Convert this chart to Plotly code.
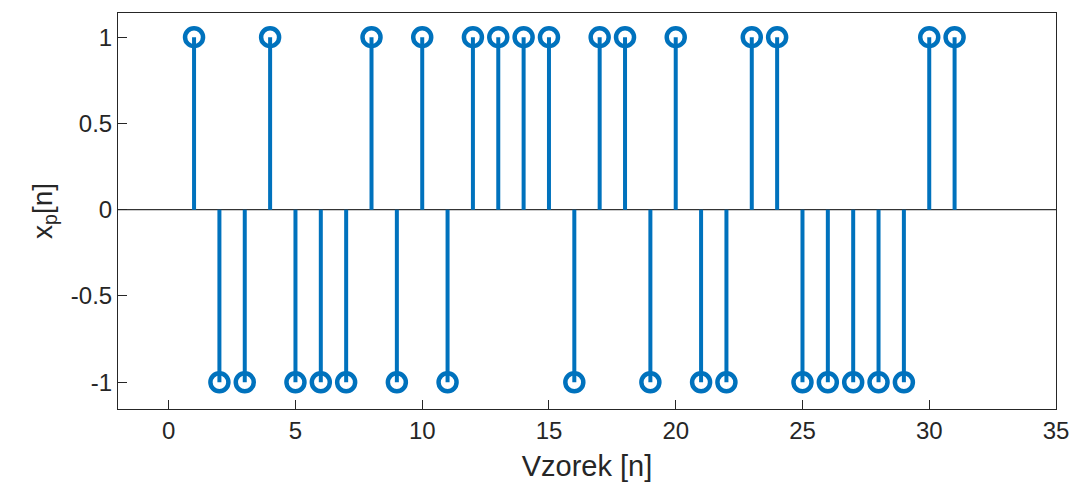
import plotly.graph_objects as go

n = list(range(1, 32))
xp = [1, -1, -1, 1, -1, -1, -1, 1, -1, 1, -1, 1, 1, 1, 1, -1, 1, 1, -1, 1,
      -1, -1, 1, 1, -1, -1, -1, -1, -1, 1, 1]
x_ticks = [0, 5, 10, 15, 20, 25, 30, 35]
y_ticks = [-1, -0.5, 0, 0.5, 1]
y_tick_text = ["-1", "-0.5", "0", "0.5", "1"]

color = "#0072BD"

sx, sy = [], []
for xi, yi in zip(n, xp):
    sx += [xi, xi, None]
    sy += [0, yi, None]

fig = go.Figure()
fig.add_trace(go.Scatter(x=[-2, 35], y=[0, 0], mode="lines",
                         line=dict(color="black", width=1), hoverinfo="skip"))
fig.add_trace(go.Scatter(x=sx, y=sy, mode="lines",
                         line=dict(color=color, width=4), hoverinfo="skip"))
fig.add_trace(go.Scatter(x=n, y=xp, mode="markers",
                         marker=dict(symbol="circle-open", size=18, color=color,
                                     line=dict(width=4.5, color=color))))

axis_common = dict(showline=True, mirror=True, linecolor="#262626", linewidth=1,
                   ticks="inside", ticklen=9, tickcolor="#262626", showgrid=False,
                   zeroline=False, automargin=False, ticklabeloverflow="allow",
                   tickfont=dict(size=24, color="#262626",
                                 family="Liberation Sans, Arial"))
fig.update_layout(
    width=1073, height=492,
    margin=dict(l=118, r=17, t=13, b=83),
    plot_bgcolor="white", paper_bgcolor="white",
    showlegend=False,
    font=dict(family="Liberation Sans, Arial", color="#262626"),
    xaxis=dict(range=[-2, 35.0001], tickvals=x_ticks,
               title=dict(text="Vzorek [n]", font=dict(size=29), standoff=12),
               **axis_common),
    yaxis=dict(range=[-1.155, 1.14], tickvals=y_ticks, ticktext=y_tick_text,
               title=dict(text="x<sub>p</sub>[n]", font=dict(size=28), standoff=10),
               **axis_common),
)
fig.write_html("out.html", config={"displayModeBar": False},
               post_script="document.body.style.margin='0';document.body.style.overflow='hidden';")
